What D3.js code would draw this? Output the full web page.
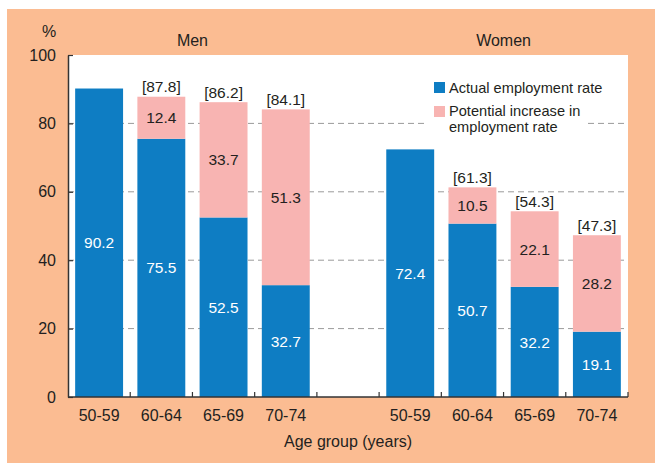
<!DOCTYPE html>
<html>
<head>
<meta charset="utf-8">
<script src="https://cdn.jsdelivr.net/npm/d3@7"></script>
<style>
  html, body { margin: 0; padding: 0; background: #ffffff; }
  svg { display: block; font-family: "Liberation Sans", Arial, Helvetica, sans-serif; }
</style>
</head>
<body>
<svg id="chart" width="655" height="464"></svg>
<script>
// ---- Data ----
const groups = ["Men", "Women"];
const ageGroups = ["50-59", "60-64", "65-69", "70-74"];
const menActual = [90.2, 75.5, 52.5, 32.7];
const menPotential = [null, 12.4, 33.7, 51.3];
const menTotal = [null, 87.8, 86.2, 84.1];
const womenActual = [72.4, 50.7, 32.2, 19.1];
const womenPotential = [null, 10.5, 22.1, 28.2];
const womenTotal = [null, 61.3, 54.3, 47.3];
const yTicks = [0, 20, 40, 60, 80, 100];
const seriesNames = ["Actual employment rate", "Potential increase in employment rate"];

// ---- Build rows ----
const rows = [];
ageGroups.forEach((a, i) => rows.push({key: "M" + i, group: "Men", age: a, actual: menActual[i], potential: menPotential[i], total: menTotal[i]}));
const gapKey = "gap";
ageGroups.forEach((a, i) => rows.push({key: "W" + i, group: "Women", age: a, actual: womenActual[i], potential: womenPotential[i], total: womenTotal[i]}));
const slotKeys = rows.slice(0, 4).map(d => d.key).concat([gapKey], rows.slice(4).map(d => d.key));

const colors = { actual: "#0e7dc3", potential: "#f8b4b2", bg: "#fbbc92", text: "#231f20", axis: "#333333", grid: "#9a9a9a" };

const svg = d3.select("#chart");
const pL = 68, pR = 628, pT = 55, pB = 397;

// background
svg.append("rect").attr("x", 7).attr("y", 9).attr("width", 648).attr("height", 454).attr("fill", colors.bg);
svg.append("rect").attr("x", pL).attr("y", pT).attr("width", pR - pL).attr("height", pB - pT).attr("fill", "#ffffff");

const x = d3.scaleBand().domain(slotKeys).range([pL, pR]).paddingInner(0.23).paddingOuter(0.115);
const y = d3.scaleLinear().domain([0, 100]).range([pB, pT]);

// gridlines
svg.append("g").selectAll("line").data(yTicks.filter(t => t > 0 && t < 100)).join("line")
  .attr("x1", pL).attr("x2", pR)
  .attr("y1", d => y(d)).attr("y2", d => y(d))
  .attr("stroke", colors.grid).attr("stroke-width", 1).attr("stroke-dasharray", "6,4");

// legend background (covers gridline)
const lg = svg.append("g");
lg.append("rect").attr("x", 426).attr("y", 76).attr("width", 160).attr("height", 62).attr("fill", "#ffffff");

// bars
const bars = svg.append("g");
bars.selectAll("rect.actual").data(rows).join("rect").attr("class", "actual")
  .attr("x", d => x(d.key)).attr("width", x.bandwidth())
  .attr("y", d => y(d.actual)).attr("height", d => y(0) - y(d.actual))
  .attr("fill", colors.actual);
const potRows = rows.filter(d => d.potential != null);
bars.selectAll("rect.pot").data(potRows).join("rect").attr("class", "pot")
  .attr("x", d => x(d.key)).attr("width", x.bandwidth())
  .attr("y", d => y(d.total)).attr("height", d => y(d.actual) - y(d.total))
  .attr("fill", colors.potential);

// value labels
const lab = svg.append("g").attr("text-anchor", "middle").attr("font-size", 15.5);
lab.selectAll("text.a").data(rows).join("text").attr("class", "a")
  .attr("x", d => x(d.key) + x.bandwidth() / 2)
  .attr("y", d => (y(d.actual) + y(0)) / 2).attr("dy", "0.36em")
  .attr("fill", "#ffffff").text(d => d.actual.toFixed(1));
lab.selectAll("text.p").data(potRows).join("text").attr("class", "p")
  .attr("x", d => x(d.key) + x.bandwidth() / 2)
  .attr("y", d => (y(d.actual) + y(d.total)) / 2).attr("dy", "0.36em")
  .attr("fill", colors.text).text(d => d.potential.toFixed(1));
lab.selectAll("text.t").data(potRows).join("text").attr("class", "t")
  .attr("x", d => x(d.key) + x.bandwidth() / 2)
  .attr("y", d => y(d.total) - 10).attr("dy", "0.36em")
  .attr("fill", colors.text).text(d => "[" + d.total.toFixed(1) + "]");

// y axis
const yAxis = d3.axisLeft(y).tickValues(yTicks).tickSizeInner(-5).tickSizeOuter(0).tickPadding(12);
const ya = svg.append("g").attr("transform", `translate(${pL},0)`).call(yAxis);
ya.select(".domain").attr("stroke", colors.axis).attr("stroke-width", 1.5);
ya.selectAll(".tick line").attr("stroke", colors.axis).attr("stroke-width", 1.2);
ya.selectAll(".tick text").attr("font-size", 16).attr("fill", colors.text).attr("font-family", "Liberation Sans, Arial, sans-serif");

// x axis line + boundary ticks
const step = x.step();
const boundaries = d3.range(1, slotKeys.length + 1).map(k => pL + step * k);
const xa = svg.append("g");
xa.append("line").attr("x1", pL).attr("x2", pR).attr("y1", pB).attr("y2", pB)
  .attr("stroke", colors.axis).attr("stroke-width", 1.5);
xa.selectAll("line.tk").data(boundaries).join("line").attr("class", "tk")
  .attr("x1", d => Math.min(d, pR)).attr("x2", d => Math.min(d, pR))
  .attr("y1", pB).attr("y2", pB - 5)
  .attr("stroke", colors.axis).attr("stroke-width", 1.2);
xa.selectAll("text").data(rows).join("text")
  .attr("x", d => x(d.key) + x.bandwidth() / 2).attr("y", 421)
  .attr("text-anchor", "middle").attr("font-size", 16).attr("fill", colors.text)
  .text(d => d.age);

svg.append("text").attr("x", (pL + pR) / 2).attr("y", 447).attr("text-anchor", "middle")
  .attr("font-size", 16).attr("fill", colors.text).text("Age group (years)");

// group titles
groups.forEach(g => {
  const gr = rows.filter(d => d.group === g);
  const x0 = x(gr[0].key) - step * x.paddingInner() / 2;
  const x1 = x(gr[gr.length - 1].key) + x.bandwidth() + step * x.paddingInner() / 2;
  svg.append("text").attr("x", (x0 + x1) / 2).attr("y", 46).attr("text-anchor", "middle")
    .attr("font-size", 16).attr("fill", colors.text).text(g);
});

// % label
svg.append("text").attr("x", 49).attr("y", 37).attr("text-anchor", "middle")
  .attr("font-size", 16).attr("fill", colors.text).text("%");

// legend
lg.append("rect").attr("x", 434).attr("y", 82).attr("width", 11).attr("height", 11).attr("fill", colors.actual);
lg.append("rect").attr("x", 434).attr("y", 106).attr("width", 11).attr("height", 11).attr("fill", colors.potential);
lg.append("text").attr("x", 449).attr("y", 92.5).attr("font-size", 14.6).attr("fill", colors.text).text(seriesNames[0]);
const t2 = lg.append("text").attr("x", 449).attr("y", 116).attr("font-size", 14.6).attr("fill", colors.text);
t2.append("tspan").attr("x", 449).text("Potential increase in");
t2.append("tspan").attr("x", 449).attr("dy", 16).text("employment rate");
</script>
</body>
</html>
